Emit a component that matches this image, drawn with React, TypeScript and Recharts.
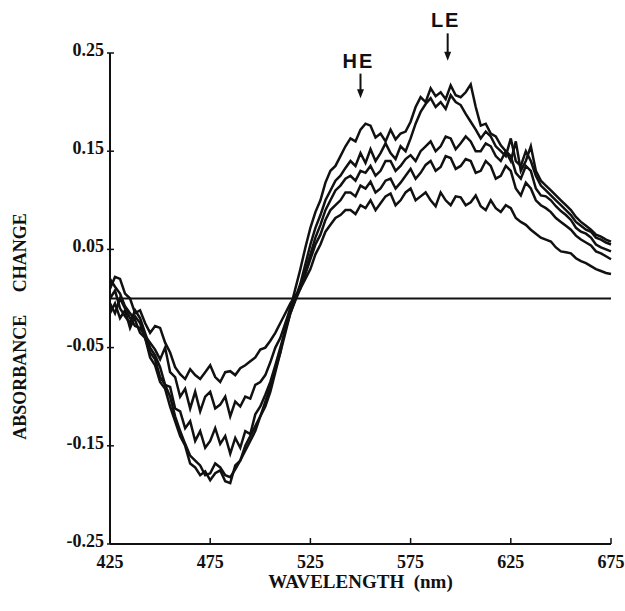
import React from "react";
import {
  LineChart,
  Line,
  XAxis,
  YAxis,
  ReferenceLine,
} from "recharts";

// wavelengths, 2.5 nm steps (10 per row = 25 nm)
const WAVELENGTHS = [
  425, 427.5, 430, 432.5, 435, 437.5, 440, 442.5, 445, 447.5,
  450, 452.5, 455, 457.5, 460, 462.5, 465, 467.5, 470, 472.5,
  475, 477.5, 480, 482.5, 485, 487.5, 490, 492.5, 495, 497.5,
  500, 502.5, 505, 507.5, 510, 512.5, 515, 517.5, 520, 522.5,
  525, 527.5, 530, 532.5, 535, 537.5, 540, 542.5, 545, 547.5,
  550, 552.5, 555, 557.5, 560, 562.5, 565, 567.5, 570, 572.5,
  575, 577.5, 580, 582.5, 585, 587.5, 590, 592.5, 595, 597.5,
  600, 602.5, 605, 607.5, 610, 612.5, 615, 617.5, 620, 622.5,
  625, 627.5, 630, 632.5, 635, 637.5, 640, 642.5, 645, 647.5,
  650, 652.5, 655, 657.5, 660, 662.5, 665, 667.5, 670, 672.5,
  675,
];

// deepest trough, HE shoulder, highest LE peak
const TRACE_1 = [
  0.02, 0.012, 0.005, -0.008, -0.015, -0.022, -0.035, -0.04, -0.06, -0.068,
  -0.085, -0.092, -0.11, -0.125, -0.14, -0.15, -0.168, -0.172, -0.18, -0.176,
  -0.185, -0.178, -0.175, -0.186, -0.188, -0.17, -0.165, -0.155, -0.145, -0.135,
  -0.12, -0.11, -0.095, -0.075, -0.055, -0.03, -0.01, 0.01, 0.03, 0.052,
  0.072, 0.088, 0.1, 0.118, 0.13, 0.135, 0.145, 0.155, 0.163, 0.16,
  0.172, 0.178, 0.176, 0.164, 0.168, 0.16, 0.172, 0.162, 0.168, 0.17,
  0.18, 0.195, 0.205, 0.2, 0.214, 0.206, 0.21, 0.203, 0.217, 0.207,
  0.205, 0.21, 0.218, 0.195, 0.176, 0.178, 0.168, 0.165, 0.156, 0.15,
  0.14, 0.16, 0.13, 0.14, 0.155, 0.13, 0.12, 0.115, 0.11, 0.105,
  0.1, 0.095, 0.09, 0.083, 0.078, 0.074, 0.07, 0.065, 0.063, 0.06,
  0.058,
];

const TRACE_2 = [
  -0.015, -0.005, -0.02, -0.012, -0.03, -0.018, -0.025, -0.04, -0.055, -0.062,
  -0.08, -0.088, -0.1, -0.12, -0.135, -0.148, -0.16, -0.165, -0.17, -0.18,
  -0.178, -0.168, -0.172, -0.18, -0.182, -0.174, -0.165, -0.15, -0.14, -0.13,
  -0.12, -0.105, -0.09, -0.072, -0.055, -0.035, -0.015, 0.0, 0.015, 0.035,
  0.055, 0.072, 0.085, 0.1, 0.11, 0.12, 0.125, 0.133, 0.14, 0.135,
  0.148, 0.138, 0.152, 0.14, 0.148, 0.158, 0.148, 0.142, 0.155, 0.15,
  0.163, 0.178, 0.19, 0.198, 0.204, 0.195, 0.2, 0.193, 0.207, 0.2,
  0.197, 0.188, 0.18, 0.172, 0.163, 0.17, 0.165, 0.155, 0.15, 0.145,
  0.163, 0.14, 0.135, 0.15, 0.14, 0.125, 0.115, 0.11, 0.105, 0.1,
  0.095, 0.09, 0.085, 0.078, 0.074, 0.07, 0.068, 0.062, 0.06, 0.057,
  0.055,
];

const TRACE_3 = [
  0.0, 0.008, -0.01, -0.018, -0.025, -0.012, -0.02, -0.035, -0.05, -0.058,
  -0.07, -0.088, -0.09, -0.112, -0.115, -0.132, -0.125, -0.145, -0.135, -0.152,
  -0.145, -0.132, -0.148, -0.14, -0.158, -0.142, -0.152, -0.135, -0.138, -0.118,
  -0.11, -0.098, -0.085, -0.068, -0.05, -0.032, -0.015, -0.002, 0.01, 0.028,
  0.045, 0.062, 0.075, 0.09, 0.1, 0.11, 0.115, 0.122, 0.125, 0.12,
  0.13, 0.128, 0.135, 0.125, 0.13, 0.14, 0.14, 0.13, 0.135, 0.142,
  0.146, 0.14, 0.15, 0.155, 0.16, 0.15, 0.155, 0.165, 0.163, 0.152,
  0.158, 0.165, 0.16, 0.15, 0.15, 0.158, 0.155, 0.145, 0.14, 0.15,
  0.145, 0.128, 0.122, 0.135, 0.13, 0.112, 0.105, 0.104, 0.1, 0.094,
  0.089, 0.085, 0.08, 0.072, 0.068, 0.066, 0.062, 0.055, 0.052, 0.05,
  0.048,
];

const TRACE_4 = [
  -0.005, -0.015, 0.0, -0.01, -0.02, -0.028, -0.03, -0.038, -0.045, -0.052,
  -0.062, -0.05, -0.075, -0.08, -0.1, -0.092, -0.112, -0.095, -0.115, -0.1,
  -0.095, -0.112, -0.108, -0.1, -0.12, -0.105, -0.11, -0.1, -0.102, -0.088,
  -0.085, -0.078, -0.065, -0.05, -0.04, -0.025, -0.01, 0.0, 0.012, 0.025,
  0.04, 0.055, 0.065, 0.08, 0.09, 0.095, 0.1, 0.108, 0.108, 0.104,
  0.115, 0.112, 0.119, 0.108, 0.112, 0.12, 0.122, 0.112, 0.118, 0.125,
  0.132, 0.122, 0.128, 0.136, 0.14, 0.13, 0.134, 0.145, 0.143, 0.132,
  0.135, 0.142, 0.14, 0.128, 0.13, 0.14, 0.135, 0.122, 0.125, 0.135,
  0.13, 0.112, 0.105, 0.118, 0.112, 0.1, 0.095, 0.092, 0.088, 0.082,
  0.078, 0.074, 0.07, 0.064, 0.06, 0.057, 0.054, 0.048, 0.046, 0.043,
  0.04,
];

// shallowest trough, flattest peak
const TRACE_5 = [
  0.01, 0.022, 0.02, 0.005, 0.0, -0.015, -0.012, -0.025, -0.035, -0.028,
  -0.03, -0.045, -0.055, -0.07, -0.077, -0.082, -0.072, -0.078, -0.082, -0.075,
  -0.068, -0.08, -0.085, -0.075, -0.074, -0.078, -0.071, -0.068, -0.064, -0.06,
  -0.052, -0.05, -0.043, -0.035, -0.025, -0.015, -0.005, 0.003, 0.01, 0.02,
  0.03, 0.045, 0.055, 0.068, 0.075, 0.082, 0.085, 0.09, 0.09, 0.086,
  0.095, 0.092, 0.1, 0.09, 0.097, 0.104, 0.107, 0.095, 0.1, 0.108,
  0.112, 0.1, 0.104, 0.108, 0.1, 0.094, 0.108, 0.1, 0.095, 0.104,
  0.103, 0.095, 0.098, 0.105, 0.094, 0.09, 0.1, 0.092, 0.088, 0.095,
  0.092, 0.082, 0.078, 0.075, 0.07, 0.066, 0.062, 0.06, 0.058, 0.052,
  0.048, 0.047, 0.046, 0.041, 0.038, 0.036, 0.033, 0.03, 0.028, 0.026,
  0.025,
];

const X_TICKS = [425, 475, 525, 575, 625, 675];
const Y_TICKS = [-0.25, -0.15, -0.05, 0.05, 0.15, 0.25];
const Y_TICK_LABELS = ["-0.25", "-0.15", "-0.05", "0.05", "0.15", "0.25"];

const SERIES = ["t1", "t2", "t3", "t4", "t5"];

const data = WAVELENGTHS.map((w, i) => ({
  wl: w,
  t1: TRACE_1[i],
  t2: TRACE_2[i],
  t3: TRACE_3[i],
  t4: TRACE_4[i],
  t5: TRACE_5[i],
}));

const SERIF = "'Liberation Serif', 'Times New Roman', serif";
const SANS = "'Liberation Sans', Arial, sans-serif";
const INK = "#111";

const XTick = (props: any) => {
  const { x, y, payload } = props;
  return (
    <g>
      <line x1={x} y1={y} x2={x} y2={y - 6} stroke={INK} strokeWidth={1.5} />
      <text
        x={x}
        y={y + 24}
        textAnchor="middle"
        fontFamily={SERIF}
        fontWeight="bold"
        fontSize={18}
        fill={INK}
      >
        {payload.value}
      </text>
    </g>
  );
};

const YTick = (props: any) => {
  const { x, y, payload } = props;
  const idx = Y_TICKS.indexOf(payload.value);
  return (
    <g>
      <line x1={x - 3} y1={y} x2={x + 4} y2={y} stroke={INK} strokeWidth={1.5} />
      <text
        x={x - 6}
        y={y + 3}
        textAnchor="end"
        fontFamily={SERIF}
        fontWeight="bold"
        fontSize={18}
        fill={INK}
      >
        {idx >= 0 ? Y_TICK_LABELS[idx] : payload.value}
      </text>
    </g>
  );
};

// arrow pointing down with a label above it
const arrowShape = (label: string) => (props: any) => {
  const { x1, y1, x2, y2 } = props;
  const top = Math.min(y1, y2);
  const bottom = Math.max(y1, y2);
  return (
    <g>
      <line x1={x1} y1={top} x2={x2} y2={bottom - 6} stroke={INK} strokeWidth={2} />
      <polygon
        points={`${x1 - 3.5},${bottom - 9} ${x1 + 3.5},${bottom - 9} ${x1},${bottom}`}
        fill={INK}
      />
      <text
        x={x1 - 2}
        y={top - 6}
        textAnchor="middle"
        fontFamily={SANS}
        fontWeight="bold"
        fontSize={20}
        letterSpacing={2}
        fill={INK}
      >
        {label}
      </text>
    </g>
  );
};

const App = () => {
  return (
    <div style={{ position: "absolute", left: 0, top: 0, background: "#fff" }}>
      <LineChart
        width={625}
        height={611}
        data={data}
        margin={{ top: 53, right: 14, bottom: 27, left: 50 }}
      >
        <XAxis
          dataKey="wl"
          type="number"
          domain={[425, 675]}
          ticks={X_TICKS}
          tickSize={0}
          tickMargin={0}
          height={40}
          stroke={INK}
          strokeWidth={2}
          tick={<XTick />}
          label={{
            value: "WAVELENGTH\u00A0\u00A0(nm)",
            position: "insideBottom",
            offset: -4,
            style: {
              fontFamily: SERIF,
              fontWeight: "bold",
              fontSize: 19,
              fill: INK,
            },
          }}
        />
        <YAxis
          type="number"
          domain={[-0.25, 0.25]}
          ticks={Y_TICKS}
          tickSize={0}
          tickMargin={0}
          width={60}
          stroke={INK}
          strokeWidth={2}
          tick={<YTick />}
          label={{
            value: "ABSORBANCE\u00A0\u00A0\u00A0\u00A0\u00A0CHANGE",
            angle: -90,
            position: "center",
            dx: -60,
            dy: 28,
            style: {
              fontFamily: SERIF,
              fontWeight: "bold",
              fontSize: 18,
              fill: INK,
            },
          }}
        />
        <ReferenceLine y={0} stroke={INK} strokeWidth={2} />
        <ReferenceLine
          segment={[
            { x: 550, y: 0.229 },
            { x: 550, y: 0.204 },
          ]}
          ifOverflow="visible"
          shape={arrowShape("HE")}
        />
        <ReferenceLine
          segment={[
            { x: 593.5, y: 0.27 },
            { x: 593.5, y: 0.242 },
          ]}
          ifOverflow="visible"
          shape={arrowShape("LE")}
        />
        {SERIES.map((key) => (
          <Line
            key={key}
            type="linear"
            dataKey={key}
            stroke={INK}
            strokeWidth={2.5}
            dot={false}
            isAnimationActive={false}
          />
        ))}
      </LineChart>
    </div>
  );
};

export default App;
